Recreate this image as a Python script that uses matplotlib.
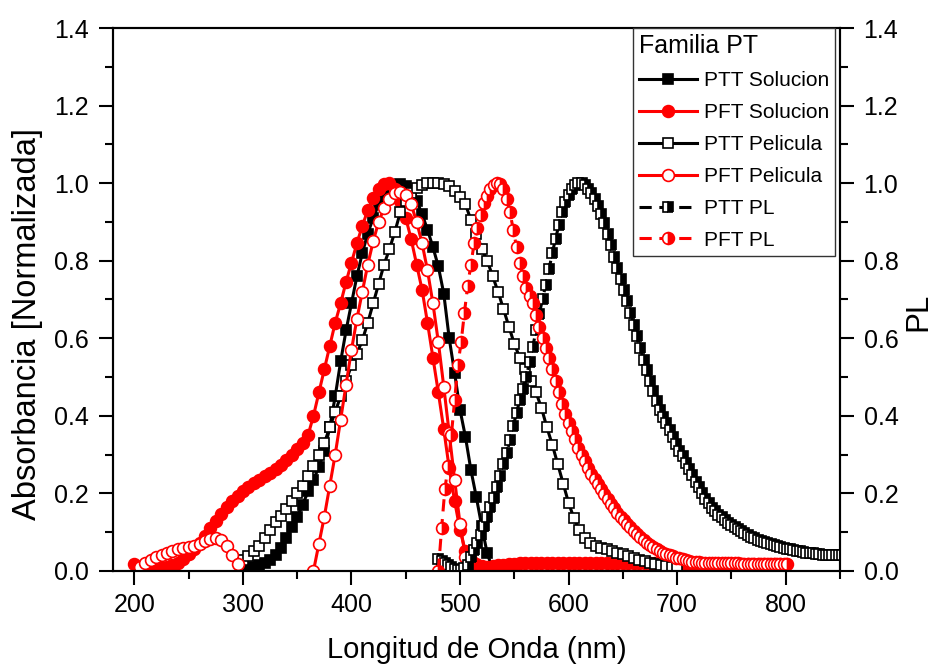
import numpy as np
import matplotlib.pyplot as plt
from matplotlib.ticker import MultipleLocator

plt.rcParams['font.family'] = ['Liberation Sans', 'DejaVu Sans']

# Absorbance spectra (normalised), sampled every 5 nm
ptt_sol_start = 300
ptt_sol = [0.005, 0.008, 0.011, 0.015, 0.02, 0.028, 0.042, 0.06, 0.085, 0.112,
           0.14, 0.17, 0.205, 0.235, 0.268, 0.31, 0.37, 0.45, 0.54, 0.62,
           0.69, 0.76, 0.82, 0.87, 0.91, 0.945, 0.97, 0.985, 0.995, 0.997,
           0.993, 0.98, 0.955, 0.92, 0.88, 0.835, 0.785, 0.715, 0.6, 0.51,
           0.415, 0.345, 0.26, 0.19, 0.115, 0.045, 0.005]

pft_sol_start = 200
pft_sol = [0.018, 0.01, 0.004, 0.002, 0.003, 0.006, 0.01, 0.015, 0.021, 0.03,
           0.043, 0.057, 0.073, 0.09, 0.11, 0.128, 0.147, 0.165, 0.18, 0.193,
           0.205, 0.216, 0.226, 0.235, 0.244, 0.252, 0.262, 0.273, 0.286, 0.298,
           0.313, 0.33, 0.35, 0.4, 0.46, 0.52, 0.58, 0.64, 0.69, 0.745,
           0.795, 0.845, 0.89, 0.93, 0.962, 0.985, 0.998, 1.0, 0.985, 0.955,
           0.91, 0.855, 0.79, 0.725, 0.64, 0.55, 0.46, 0.365, 0.265, 0.18,
           0.105, 0.05, 0.028, 0.018, 0.012, 0.011, 0.012, 0.014, 0.016, 0.017,
           0.018, 0.019, 0.019, 0.02, 0.02, 0.02, 0.02, 0.021, 0.021, 0.021,
           0.021, 0.021, 0.021, 0.02, 0.02, 0.02, 0.02, 0.02, 0.02, 0.02,
           0.019, 0.019, 0.019, 0.019, 0.019, 0.019, 0.019, 0.018, 0.018, 0.018,
           0.018, 0.018, 0.018, 0.018, 0.018, 0.018, 0.018, 0.017, 0.017, 0.017,
           0.017, 0.017, 0.017, 0.017, 0.017, 0.017, 0.017, 0.017, 0.017, 0.017,
           0.017]

ptt_pel_start = 300
ptt_pel = [0.028, 0.038, 0.05, 0.065, 0.085, 0.105, 0.125, 0.142, 0.16, 0.18,
           0.2, 0.22, 0.245, 0.27, 0.3, 0.33, 0.37, 0.41, 0.45, 0.49,
           0.53, 0.56, 0.595, 0.64, 0.69, 0.74, 0.79, 0.83, 0.875, 0.925,
           0.955, 0.975, 0.987, 0.995, 1.0, 1.0, 1.0, 0.998, 0.993, 0.98,
           0.965, 0.945, 0.905, 0.87, 0.83, 0.8, 0.76, 0.72, 0.675, 0.63,
           0.585, 0.55, 0.52, 0.49, 0.46, 0.42, 0.37, 0.325, 0.275, 0.225,
           0.175, 0.135, 0.105, 0.085, 0.072, 0.065, 0.06, 0.055, 0.05, 0.046,
           0.043, 0.038, 0.033, 0.029, 0.025, 0.021, 0.018, 0.015, 0.013, 0.01,
           0.008]

pft_pel_start = 205
pft_pel = [0.01, 0.02, 0.029, 0.036, 0.042, 0.047, 0.051, 0.055, 0.058, 0.061,
           0.065, 0.07, 0.077, 0.082, 0.084, 0.079, 0.064, 0.042, 0.017, -0.02,
           -0.03, -0.03, -0.03, -0.03, -0.03, -0.03, -0.03, -0.03, -0.03, -0.03,
           -0.03, -0.02, 0.0, 0.07, 0.14, 0.22, 0.3, 0.39, 0.48, 0.57,
           0.65, 0.72, 0.79, 0.85, 0.9, 0.935, 0.96, 0.975, 0.978, 0.97,
           0.945, 0.9, 0.845, 0.775, 0.69, 0.59, 0.475, 0.355, 0.235, 0.12,
           0.035, -0.02, -0.03]

# Photoluminescence (normalised), sampled every 3 nm
ptt_pl_start = 480
ptt_pl = [0.03, 0.025, 0.02, 0.014, 0.009, 0.005, 0.003, 0.003, 0.006, 0.015,
          0.035, 0.053, 0.072, 0.093, 0.116, 0.14, 0.164, 0.189, 0.216, 0.245,
          0.275, 0.305, 0.337, 0.373, 0.407, 0.44, 0.47, 0.501, 0.538, 0.578,
          0.62, 0.662, 0.702, 0.738, 0.778, 0.82, 0.857, 0.891, 0.925, 0.95,
          0.97, 0.985, 0.995, 1.0, 0.999, 0.995, 0.986, 0.975, 0.96, 0.941,
          0.92, 0.896, 0.87, 0.84, 0.81, 0.78, 0.753, 0.725, 0.695, 0.665,
          0.635, 0.605, 0.575, 0.545, 0.517, 0.49, 0.463, 0.438, 0.416, 0.398,
          0.38, 0.362, 0.344, 0.326, 0.31, 0.295, 0.279, 0.262, 0.246, 0.23,
          0.215, 0.2, 0.186, 0.174, 0.163, 0.153, 0.145, 0.138, 0.13, 0.124,
          0.118, 0.113, 0.108, 0.102, 0.097, 0.092, 0.088, 0.084, 0.08, 0.077,
          0.074, 0.071, 0.068, 0.066, 0.063, 0.061, 0.059, 0.057, 0.055, 0.054,
          0.052, 0.05, 0.049, 0.047, 0.046, 0.045, 0.044, 0.043, 0.042, 0.042,
          0.041, 0.041, 0.04, 0.04, 0.04]

pft_pl_start = 480
pft_pl = [0.0, 0.11, 0.21, 0.27, 0.35, 0.44, 0.53, 0.59, 0.665, 0.735,
          0.79, 0.845, 0.885, 0.918, 0.948, 0.968, 0.984, 0.995, 1.0, 0.998,
          0.985, 0.96, 0.925, 0.88, 0.835, 0.795, 0.76, 0.73, 0.71, 0.69,
          0.66, 0.63, 0.6, 0.575, 0.55, 0.52, 0.49, 0.46, 0.43, 0.405,
          0.38, 0.36, 0.34, 0.318, 0.3, 0.282, 0.265, 0.25, 0.236, 0.223,
          0.21, 0.197, 0.185, 0.173, 0.161, 0.15, 0.14, 0.13, 0.12, 0.112,
          0.103, 0.095, 0.087, 0.08, 0.073, 0.067, 0.061, 0.056, 0.051, 0.047,
          0.043, 0.04, 0.037, 0.034, 0.032, 0.03, 0.028, 0.026, 0.024, 0.023,
          0.022, 0.021, 0.021, 0.02, 0.02, 0.02, 0.02, 0.019, 0.019, 0.019,
          0.019, 0.019, 0.019, 0.018, 0.018, 0.018, 0.018, 0.018, 0.018, 0.018,
          0.018, 0.018, 0.018, 0.018, 0.018, 0.018, 0.018, 0.018]


def wavelengths(start, step, values):
    return start + step * np.arange(len(values))


RED = '#ff0000'
SQ = 7.5   # square marker size
CI = 8.5   # circle marker size

fig = plt.figure(figsize=(9.35, 6.67), dpi=100)
ax = fig.add_axes([0.1205, 0.1442, 0.7779, 0.8138])
ax2 = ax.twinx()

ln_kw = dict(lw=2.2, mew=1.2)
h1, = ax.plot(wavelengths(ptt_sol_start, 5, ptt_sol), ptt_sol, '-', color='k',
              marker='s', ms=SQ, mfc='k', mec='k', label='PTT Solucion', **ln_kw)
h2, = ax.plot(wavelengths(pft_sol_start, 5, pft_sol), pft_sol, '-', color=RED,
              marker='o', ms=CI, mfc=RED, mec=RED, label='PFT Solucion', **ln_kw)
h3, = ax.plot(wavelengths(ptt_pel_start, 5, ptt_pel), ptt_pel, '-', color='k',
              marker='s', ms=SQ, mfc='white', mec='k', label='PTT Pelicula', **ln_kw)
h4, = ax.plot(wavelengths(pft_pel_start, 5, pft_pel), pft_pel, '-', color=RED,
              marker='o', ms=CI, mfc='white', mec=RED, label='PFT Pelicula', **ln_kw)

# PL spectra go on the right-hand axis
h5, = ax2.plot(wavelengths(ptt_pl_start, 3, ptt_pl), ptt_pl, color='k', ls=(0, (4, 2.5)),
               marker='s', ms=SQ, fillstyle='right', mfc='k', mfcalt='white', mec='k',
               label='PTT PL', **ln_kw)
h6, = ax2.plot(wavelengths(pft_pl_start, 3, pft_pl), pft_pl, color=RED, ls=(0, (4, 2.5)),
               marker='o', ms=CI, fillstyle='right', mfc=RED, mfcalt='white', mec=RED,
               label='PFT PL', **ln_kw)

for a in (ax, ax2):
    a.set_xlim(180, 850)
    a.set_ylim(0, 1.4)
    a.yaxis.set_major_locator(MultipleLocator(0.2))
    a.yaxis.set_minor_locator(MultipleLocator(0.1))
    a.yaxis.set_major_formatter(plt.FormatStrFormatter('%.1f'))
    for s in a.spines.values():
        s.set_linewidth(1.5)

ax.xaxis.set_major_locator(MultipleLocator(100))
ax.xaxis.set_minor_locator(MultipleLocator(50))

ax.tick_params(which='major', direction='out', length=10, width=1.5, labelsize=18, pad=6)
ax.tick_params(which='minor', direction='out', length=6, width=1.5)
ax.tick_params(axis='y', which='major', pad=7)
ax2.tick_params(which='major', direction='out', length=10, width=1.5, labelsize=18, pad=7)
ax2.tick_params(which='minor', direction='out', length=6, width=1.5)

ax.set_xlabel('Longitud de Onda (nm)', fontsize=21, labelpad=14)
ax.set_ylabel('Absorbancia [Normalizada]', fontsize=23.5)
ax.yaxis.set_label_coords(-0.096, 0.455)
ax2.set_ylabel('PL', fontsize=22.5)
ax2.yaxis.set_label_coords(1.087, 0.477)

leg = ax2.legend(handles=[h1, h2, h3, h4, h5, h6], title='Familia PT',
                 loc='upper right', bbox_to_anchor=(1 - 5 / 727, 1.0),
                 borderaxespad=0, fontsize=15, title_fontsize=18,
                 alignment='left', fancybox=False, framealpha=1,
                 edgecolor='#333333', handlelength=2.8, handletextpad=0.3,
                 labelspacing=0.62, borderpad=0.3)
leg.get_frame().set_linewidth(1.0)

fig.savefig('out.png', dpi=100)
